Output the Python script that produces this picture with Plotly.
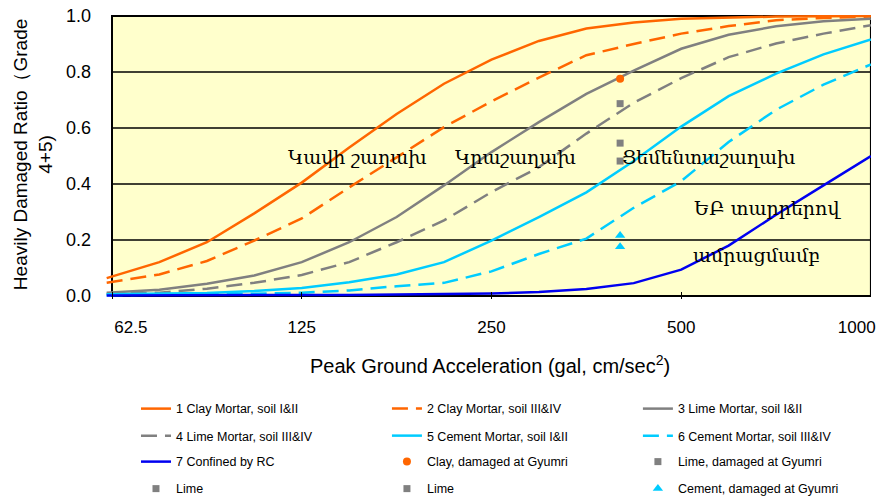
import math
import plotly.graph_objects as go

# ---- data ----
pga = [61.3, 74.3, 88.4, 105.1, 125, 148.7, 176.8, 210.2, 250, 297.3,
       353.6, 420.4, 500, 594.6, 707.1, 840.9, 1000]

clay_12 = [0.064, 0.121, 0.192, 0.295, 0.405, 0.530, 0.650, 0.758, 0.844, 0.911,
           0.955, 0.977, 0.990, 0.995, 0.998, 0.999, 1.000]
clay_34 = [0.047, 0.077, 0.125, 0.198, 0.277, 0.388, 0.495, 0.603, 0.695, 0.780,
           0.860, 0.900, 0.937, 0.964, 0.985, 0.993, 0.998]
lime_12 = [0.012, 0.022, 0.044, 0.073, 0.121, 0.192, 0.282, 0.395, 0.514, 0.621,
           0.722, 0.805, 0.883, 0.933, 0.963, 0.981, 0.990]
lime_34 = [0.008, 0.012, 0.026, 0.047, 0.075, 0.121, 0.192, 0.270, 0.371, 0.460,
           0.580, 0.690, 0.778, 0.853, 0.902, 0.937, 0.967]
cement_12 = [0.006, 0.008, 0.011, 0.018, 0.029, 0.049, 0.077, 0.121, 0.198, 0.282,
             0.370, 0.482, 0.605, 0.714, 0.794, 0.863, 0.916]
cement_34 = [0.003, 0.004, 0.006, 0.008, 0.012, 0.020, 0.035, 0.047, 0.088, 0.150,
             0.205, 0.315, 0.410, 0.550, 0.665, 0.755, 0.827]
rc = [0.002, 0.002, 0.002, 0.003, 0.003, 0.004, 0.005, 0.007, 0.009, 0.014,
      0.025, 0.046, 0.094, 0.180, 0.290, 0.395, 0.500]

obs_x = 400
clay_obs = [0.776]
lime_obs_a = [0.687]
lime_obs_b = [0.546]
lime_obs_c = [0.482]
cement_obs = [0.216, 0.176]

x_ticks = [62.5, 125, 250, 500, 1000]
x_ticktext = ["62.5", "125", "250", "500", "1000"]
y_ticks = [0, 0.2, 0.4, 0.6, 0.8, 1.0]
y_ticktext = ["0.0", "0.2", "0.4", "0.6", "0.8", "1.0"]

labels_hy = ["Կավի շաղախ", "Կրաշաղախ", "Ցեմենտաշաղախ", "ԵԲ տարրերով", "ամրացմամբ"]
labels_x = [153, 273, 553, 686, 659]
labels_y = [0.495, 0.495, 0.495, 0.316, 0.148]

# ---- styles ----
ORANGE = "#FF6600"
GREY = "#808080"
CYAN = "#00CCFF"
BLUE = "#0000F0"
DASH = "16px,8px"
LW = 2.5
NBSP = "\u00a0"

# edge tick labels sit slightly inward in the original; pad them with spaces
x_ticktext_shown = list(x_ticktext)
x_ticktext_shown[0] = NBSP * 8 + x_ticktext[0]
x_ticktext_shown[-1] = x_ticktext[-1] + NBSP * 6

# legend grid: 3 columns x 4 rows, one legend box per entry
LEG_X0 = 0.0417
LEG_DX = 0.3272
LEG_ROWS = [-0.3873, -0.4824, -0.5739, -0.6690]

fig = go.Figure()
legend_layouts = {}
slot = [0]

def next_legend():
    i = slot[0]
    slot[0] += 1
    key = "legend" if i == 0 else "legend%d" % (i + 1)
    legend_layouts[key] = dict(
        orientation="h", x=LEG_X0 + LEG_DX * (i % 3), y=LEG_ROWS[i // 3],
        xanchor="left", yanchor="middle", bgcolor="rgba(0,0,0,0)",
        font=dict(family="Liberation Sans, Arial", size=12.5, color="black"))
    return key

def line(name, y, color, dash):
    fig.add_trace(go.Scatter(x=pga, y=y, mode="lines", name=name,
                             line=dict(color=color, width=LW, dash=dash),
                             legend=next_legend()))

line("1 Clay Mortar, soil I&II", clay_12, ORANGE, "solid")
line("2 Clay Mortar, soil III&IV", clay_34, ORANGE, DASH)
line("3 Lime Mortar, soil I&II", lime_12, GREY, "solid")
line("4 Lime Mortar, soil III&IV", lime_34, GREY, DASH)
line("5 Cement Mortar, soil I&II", cement_12, CYAN, "solid")
line("6 Cement Mortar, soil III&IV", cement_34, CYAN, DASH)
line("7 Confined by RC", rc, BLUE, "solid")

def pts(name, y, color, symbol, size):
    fig.add_trace(go.Scatter(x=[obs_x] * len(y), y=y, mode="markers", name=name,
                             marker=dict(color=color, symbol=symbol, size=size),
                             legend=next_legend()))

pts("Clay, damaged at Gyumri", clay_obs, ORANGE, "circle", 8)
pts("Lime, damaged at Gyumri", lime_obs_a, GREY, "square", 7)
pts("Lime", lime_obs_b, GREY, "square", 7)
pts("Lime", lime_obs_c, GREY, "square", 7)
pts("Cement, damaged at Gyumri", cement_obs, CYAN, "triangle-up", 9)

# background, grid and frame drawn as shapes so lines may start just left of the frame
shapes = [dict(type="rect", xref="x", yref="y", x0=62.5, x1=1000, y0=0, y1=1,
               fillcolor="#FFFFCC", line=dict(width=0), layer="below")]
for gy in [0.2, 0.4, 0.6, 0.8]:
    shapes.append(dict(type="line", xref="x", yref="y", x0=62.5, x1=1000, y0=gy, y1=gy,
                       line=dict(color="black", width=1.4), layer="below"))
shapes.append(dict(type="rect", xref="x", yref="y", x0=62.5, x1=1000, y0=0, y1=1,
                   line=dict(color="black", width=2), fillcolor="rgba(0,0,0,0)",
                   layer="below"))

annotations = []
for t, ax_, ay_ in zip(labels_hy, labels_x, labels_y):
    annotations.append(dict(text=t, x=math.log10(ax_), y=ay_, xref="x", yref="y",
                            showarrow=False, xanchor="center", yanchor="middle",
                            font=dict(family="DejaVu Serif", size=19, color="black")))
annotations.append(dict(text="Heavily Damaged Ratio（Grade<br>4+5)", xref="paper", yref="paper",
                        x=-0.0926, y=0.51, textangle=-90, showarrow=False,
                        xanchor="center", yanchor="middle",
                        font=dict(family="Liberation Sans, Arial", size=19, color="black")))
annotations.append(dict(text="Peak Ground Acceleration (gal, cm/sec<sup>2</sup>)",
                        xref="paper", yref="paper", x=0.503, y=-0.232, showarrow=False,
                        xanchor="center", yanchor="middle",
                        font=dict(family="Liberation Sans Narrow, Arial Narrow, Liberation Sans",
                                  size=20, color="black")))

fig.update_layout(
    width=877, height=499,
    margin=dict(l=104, r=6, t=15, b=200, autoexpand=False),
    paper_bgcolor="white", plot_bgcolor="white",
    showlegend=True,
    shapes=shapes,
    annotations=annotations,
    xaxis=dict(type="log", range=[math.log10(60.7), math.log10(1000.3)],
               tickvals=x_ticks, ticktext=x_ticktext_shown, showgrid=False, zeroline=False,
               showline=False, ticks="inside", ticklen=7, tickcolor="black",
               ticklabelstandoff=16, automargin=False, ticklabeloverflow="allow",
               tickfont=dict(family="Liberation Sans Narrow, Arial Narrow, Liberation Sans",
                             size=17, color="black")),
    yaxis=dict(range=[-0.01071, 1.00357], tickvals=y_ticks, ticktext=y_ticktext,
               showgrid=False, zeroline=False, showline=False, ticks="",
               ticklabelstandoff=12, automargin=False,
               tickfont=dict(family="Liberation Sans, Arial", size=18, color="black")),
)
fig.update_layout(**legend_layouts)

fig.write_html("out.html", config={"displayModeBar": False},
               post_script="document.body.style.margin='0';")
